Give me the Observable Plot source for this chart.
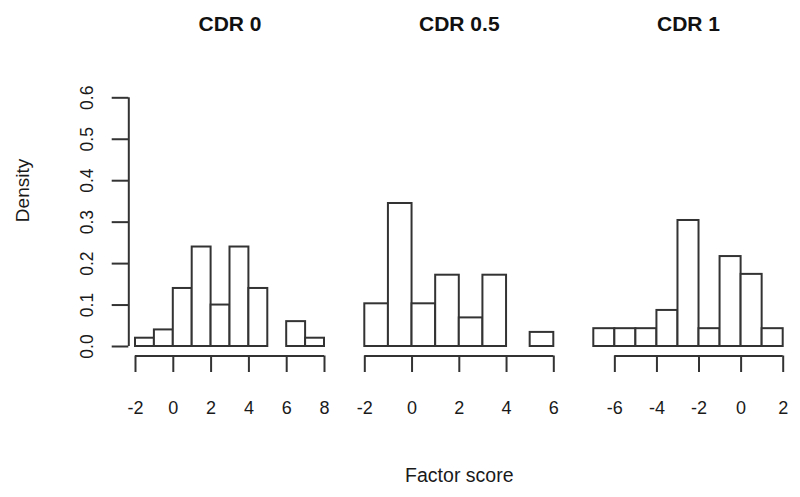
<!DOCTYPE html>
<html>
<head>
<meta charset="utf-8">
<script src="https://cdn.jsdelivr.net/npm/d3@7"></script>
<script src="https://cdn.jsdelivr.net/npm/@observablehq/plot@0.6"></script>
<style>
  html, body { margin: 0; padding: 0; background: #fff; }
  #chart { position: relative; width: 800px; height: 497px; background: #fff; font-family: "Liberation Sans", Arial, sans-serif; }
  #chart svg { position: absolute; left: 0; top: 0; }
</style>
</head>
<body>
<div id="chart"></div>
<script>
// ---- data ----
const panelTitles = ["CDR 0", "CDR 0.5", "CDR 1"];
const xLabel = "Factor score";
const yLabel = "Density";

const cdr0Edges   = [-2, -1, 0, 1, 2, 3, 4, 5, 6, 7, 8];
const cdr0Density = [0.02, 0.04, 0.14, 0.24, 0.10, 0.24, 0.14, 0.00, 0.06, 0.02];
const cdr0Ticks   = [-2, 0, 2, 4, 6, 8];

const cdr05Edges   = [-2, -1, 0, 1, 2, 3, 4, 5, 6];
const cdr05Density = [0.103, 0.345, 0.103, 0.172, 0.069, 0.172, 0.000, 0.034];
const cdr05Ticks   = [-2, 0, 2, 4, 6];

const cdr1Edges   = [-7, -6, -5, -4, -3, -2, -1, 0, 1, 2];
const cdr1Density = [0.043, 0.043, 0.043, 0.087, 0.304, 0.043, 0.217, 0.174, 0.043];
const cdr1Ticks   = [-6, -4, -2, 0, 2];

const yTicks = [0, 0.1, 0.2, 0.3, 0.4, 0.5, 0.6];

// ---- layout/style ----
const W = 800, H = 497;
const INK = "#333";
const TEXT = "#1a1a1a";
const FONT = "Liberation Sans, Arial, sans-serif";
const panels = [
  {title: panelTitles[0], edges: cdr0Edges, dens: cdr0Density, ticks: cdr0Ticks, ml: 135, mr: W - 324, yAxis: true, xTitle: false},
  {title: panelTitles[1], edges: cdr05Edges, dens: cdr05Density, ticks: cdr05Ticks, ml: 364.3, mr: W - 553.3, yAxis: false, xTitle: true},
  {title: panelTitles[2], edges: cdr1Edges, dens: cdr1Density, ticks: cdr1Ticks, ml: 593.3, mr: W - 782.7, yAxis: false, xTitle: false}
];

const chart = document.getElementById("chart");

for (const p of panels) {
  const bins = p.dens.map((d, i) => ({x1: p.edges[i], x2: p.edges[i + 1], y: d}));
  const xMin = p.edges[0], xMax = p.edges[p.edges.length - 1];
  const marks = [
    Plot.rectY(bins, {x1: "x1", x2: "x2", y: "y", fill: "white", stroke: INK, strokeWidth: 2}),
    // x axis spine from first to last tick (R style)
    Plot.ruleY([0], {x1: p.ticks[0], x2: p.ticks[p.ticks.length - 1], dy: 9.5, stroke: INK, strokeWidth: 2}),
    Plot.axisX({anchor: "bottom", ticks: p.ticks, tickFormat: d => String(d), dy: 9.5,
      tickSize: 16.5, tickPadding: 29, fontSize: 18, stroke: INK, strokeWidth: 2, fill: TEXT, label: null}),
    Plot.text([p.title], {x: (xMin + xMax) / 2, frameAnchor: "top", dy: -73.3, lineAnchor: "middle",
      fontSize: 21, fontWeight: "bold", fill: "#111"})
  ];
  if (p.yAxis) {
    marks.push(
      Plot.ruleX([xMin], {y1: yTicks[0], y2: yTicks[yTicks.length - 1], dx: -6.7, stroke: INK, strokeWidth: 2}),
      Plot.axisY({anchor: "left", ticks: yTicks, tickFormat: d3.format(".1f"), dx: -6.7,
        tickSize: 16.6, tickPadding: 19, tickRotate: -90, fontSize: 17.5, stroke: INK, strokeWidth: 2, fill: TEXT, label: null}),
      Plot.text([yLabel], {frameAnchor: "left", rotate: -90, dx: -113, fontSize: 19, fill: TEXT})
    );
  }
  if (p.xTitle) {
    marks.push(Plot.text([xLabel], {frameAnchor: "bottom", dy: 129, lineAnchor: "middle", fontSize: 19.5, fill: TEXT}));
  }
  const svg = Plot.plot({
    width: W, height: H,
    marginLeft: p.ml, marginRight: p.mr, marginTop: 97.3, marginBottom: H - 346,
    x: {domain: [xMin, xMax], label: null},
    y: {domain: [0, 0.6], label: null, axis: p.yAxis ? undefined : null},
    style: {background: "transparent", fontFamily: FONT, overflow: "visible"},
    marks
  });
  chart.appendChild(svg);
}
</script>
</body>
</html>
